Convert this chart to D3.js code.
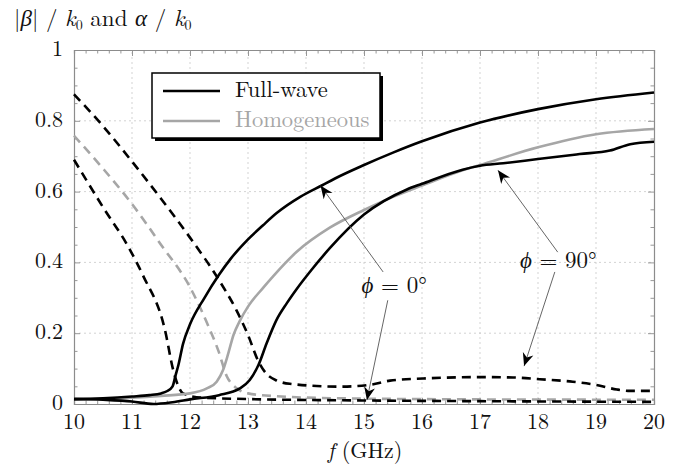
<!DOCTYPE html>
<html lang="en">
<head>
<meta charset="UTF-8" />
<script src="https://cdnjs.cloudflare.com/ajax/libs/d3/7.8.5/d3.min.js"></script>
<title>Propagation constants</title>
<style>
body { margin: 0; background: #fff; }
svg { display: block; }
</style>
</head>
<body>
<svg id="chart" width="690" height="467"></svg>
<script>

// curves: [f (GHz), value]
const fwBeta0 = [
  [10, 0.013], [10.5, 0.016], [11, 0.021], [11.3, 0.025], [11.5, 0.03], [11.6, 0.036],
  [11.7, 0.05], [11.75, 0.08], [11.8, 0.11], [11.88, 0.17], [12.0, 0.225], [12.25, 0.3],
  [12.5, 0.365], [12.7, 0.41], [13.0, 0.465], [13.26, 0.505], [13.5, 0.54], [13.9, 0.585],
  [14.28, 0.618], [14.5, 0.637], [15.0, 0.675], [15.5, 0.71], [16, 0.742], [17, 0.795],
  [18, 0.833], [19, 0.861], [20, 0.88]
];
const fwBeta90 = [
  [10, 0.015], [10.5, 0.012], [11, 0.007], [11.37, 0.0], [11.7, 0.005], [12, 0.013],
  [12.5, 0.025], [12.86, 0.044], [13.03, 0.068], [13.18, 0.11], [13.32, 0.171], [13.49, 0.237],
  [13.67, 0.285], [13.84, 0.325], [14.1, 0.38], [14.41, 0.44], [15.0, 0.535], [15.74, 0.606],
  [16, 0.622], [16.7, 0.662], [17.0, 0.673], [17.4, 0.68], [18, 0.692], [18.72, 0.706],
  [19.24, 0.716], [19.59, 0.734], [20, 0.741]
];
const hoBeta = [
  [10, 0.014], [11, 0.018], [11.5, 0.023], [12.0, 0.03], [12.29, 0.044], [12.46, 0.063],
  [12.57, 0.096], [12.66, 0.143], [12.75, 0.195], [12.85, 0.232], [13.0, 0.275], [13.26, 0.328],
  [13.44, 0.362], [13.84, 0.43], [14.41, 0.498], [15.0, 0.548], [15.5, 0.585], [16, 0.617],
  [16.7, 0.66], [17, 0.675], [18, 0.725], [19, 0.762], [20, 0.777]
];
const fwAlpha90 = [
  [10, 0.875], [10.5, 0.785], [11, 0.685], [11.5, 0.58], [12, 0.47], [12.5, 0.35],
  [12.8, 0.265], [13.0, 0.195], [13.18, 0.12], [13.32, 0.085], [13.5, 0.066], [13.72, 0.057],
  [14.59, 0.049], [15.1, 0.054], [15.45, 0.066], [16.02, 0.072], [17.0, 0.076], [17.57, 0.075],
  [18.03, 0.07], [18.6, 0.063], [19.0, 0.054], [19.36, 0.041], [19.59, 0.037], [20, 0.037]
];
const hoAlpha = [
  [10, 0.758], [10.5, 0.665], [11, 0.565], [11.5, 0.45], [12, 0.33], [12.29, 0.23],
  [12.49, 0.15], [12.63, 0.08], [12.8, 0.045], [13, 0.03], [13.5, 0.022], [14.59, 0.016],
  [17, 0.013], [20, 0.012]
];
const fwAlpha0 = [
  [10, 0.69], [10.5, 0.556], [10.94, 0.443], [11.19, 0.363], [11.57, 0.208], [11.71, 0.096],
  [11.8, 0.05], [11.88, 0.03], [12.2, 0.018], [13, 0.014], [15, 0.01], [17, 0.008], [20, 0.006]
];

const xTicks = [10, 11, 12, 13, 14, 15, 16, 17, 18, 19, 20];
const yTicks = [0, 0.2, 0.4, 0.6, 0.8, 1];
const yTickLabels = ['0', '0.2', '0.4', '0.6', '0.8', '1'];

// annotations: label position and arrows [from, tip], data units
const notes = [
  { text: '0°', at: [15.52, 0.313], arrows: [[[15.33, 0.373], [14.25, 0.617]], [[15.41, 0.293], [15.05, 0.011]]] },
  { text: '90°', at: [18.35, 0.383], arrows: [[[18.34, 0.429], [17.31, 0.66]], [[18.29, 0.373], [17.76, 0.107]]] }
];

const roman = 'Latin Modern Roman';
const greek = 'Liberation Serif';
const svg = d3.select('#chart');
const x = d3.scaleLinear().domain([10, 20]).range([74, 654]);
const y = d3.scaleLinear().domain([0, 1]).range([404, 50]);

// grid
const grid = svg.append('g').attr('stroke', '#c8c8c8').attr('stroke-width', 0.8).attr('stroke-dasharray', '2,3');
grid.selectAll('.gx').data(xTicks.slice(1, -1)).join('line')
  .attr('x1', d => x(d)).attr('x2', d => x(d)).attr('y1', y(0)).attr('y2', y(1));
grid.selectAll('.gy').data(yTicks.slice(1, -1)).join('line')
  .attr('x1', x(10)).attr('x2', x(20)).attr('y1', d => y(d)).attr('y2', d => y(d));

// axis frame with inward ticks
const tickColor = '#8c8c8c';
const xMinor = d3.range(10, 20.001, 0.2);
const yMinor = d3.range(0, 1.001, 0.05);
const frame = svg.append('g');
const axB = frame.append('g').attr('transform', `translate(0,${y(0)})`)
  .call(d3.axisBottom(x).tickValues(xMinor).tickSize(-3.5).tickFormat(''));
const axT = frame.append('g').attr('transform', `translate(0,${y(1)})`)
  .call(d3.axisTop(x).tickValues(xMinor).tickSize(-3.5).tickFormat(''));
const axL = frame.append('g').attr('transform', `translate(${x(10)},0)`)
  .call(d3.axisLeft(y).tickValues(yMinor).tickSize(-4).tickFormat(''));
const axR = frame.append('g').attr('transform', `translate(${x(20)},0)`)
  .call(d3.axisRight(y).tickValues(yMinor).tickSize(-4).tickFormat(''));
[axB, axT].forEach(a => a.selectAll('.tick line').attr('y2', d => {
  const major = Math.abs(d - Math.round(d)) < 1e-6;
  return (a === axB ? -1 : 1) * (major ? 6 : 3.5);
}));
[axL, axR].forEach(a => a.selectAll('.tick line').attr('x2', d => {
  const major = Math.abs(d * 5 - Math.round(d * 5)) < 1e-6;
  return (a === axL ? 1 : -1) * (major ? 6 : 3.5);
}));
frame.selectAll('path.domain').attr('stroke', tickColor).attr('stroke-width', 1.2);
frame.selectAll('.tick line').attr('stroke', tickColor).attr('stroke-width', 0.9);

// tick labels
svg.append('g').selectAll('text').data(xTicks).join('text')
  .attr('font-family', roman)
  .attr('x', d => x(d)).attr('y', 429).attr('text-anchor', 'middle')
  .attr('font-size', 22).attr('fill', '#111').text(d => d);
svg.append('g').selectAll('text').data(yTicks).join('text')
  .attr('font-family', roman)
  .attr('x', 63).attr('y', d => y(d) + 6).attr('text-anchor', 'end')
  .attr('font-size', 22).attr('fill', '#111').text((d, i) => yTickLabels[i]);

// axis titles
const xl = svg.append('text').attr('font-family', roman).attr('x', 365).attr('y', 458)
  .attr('text-anchor', 'middle').attr('font-size', 22).attr('fill', '#111');
xl.append('tspan').attr('font-style', 'italic').text('f');
xl.append('tspan').text(' (GHz)');

const yl = svg.append('text').attr('font-family', roman).attr('x', 14).attr('y', 26)
  .attr('font-size', 23).attr('fill', '#111');
yl.append('tspan').text('|');
yl.append('tspan').attr('font-family', greek).attr('font-style', 'italic').text('β');
yl.append('tspan').text('| / ');
yl.append('tspan').attr('font-style', 'italic').text('k');
yl.append('tspan').attr('font-size', 14).attr('dy', 4).text('0');
yl.append('tspan').attr('dy', -4).text(' and ');
yl.append('tspan').attr('font-family', greek).attr('font-style', 'italic').text('α');
yl.append('tspan').text(' / ');
yl.append('tspan').attr('font-style', 'italic').text('k');
yl.append('tspan').attr('font-size', 14).attr('dy', 4).text('0');

// curves
const line = d3.line().x(d => x(d[0])).y(d => y(d[1])).curve(d3.curveMonotoneX);
const series = [
  { data: hoAlpha, color: '#a6a6a6', dash: '9,6' },
  { data: fwAlpha0, color: '#000', dash: '9,6' },
  { data: fwAlpha90, color: '#000', dash: '9,6' },
  { data: hoBeta, color: '#a6a6a6', dash: null },
  { data: fwBeta90, color: '#000', dash: null },
  { data: fwBeta0, color: '#000', dash: null }
];
svg.append('g').selectAll('path').data(series).join('path')
  .attr('d', d => line(d.data))
  .attr('fill', 'none')
  .attr('stroke', d => d.color)
  .attr('stroke-width', 2.6)
  .attr('stroke-dasharray', d => d.dash);

// arrowhead marker (stealth-like)
svg.append('defs').append('marker')
  .attr('id', 'stealth').attr('viewBox', '-14 -6 16 12')
  .attr('markerWidth', 16).attr('markerHeight', 12)
  .attr('markerUnits', 'userSpaceOnUse')
  .attr('refX', 0).attr('refY', 0).attr('orient', 'auto')
  .append('path').attr('d', 'M0,0 L-13,-5.5 L-9,0 L-13,5.5 Z').attr('fill', '#000');

const ann = svg.append('g');
notes.forEach(n => {
  n.arrows.forEach(a => {
    ann.append('line')
      .attr('x1', x(a[0][0])).attr('y1', y(a[0][1]))
      .attr('x2', x(a[1][0])).attr('y2', y(a[1][1]))
      .attr('stroke', '#555').attr('stroke-width', 0.9)
      .attr('marker-end', 'url(#stealth)');
  });
  const t = ann.append('text').attr('font-family', roman)
    .attr('x', x(n.at[0])).attr('y', y(n.at[1]))
    .attr('text-anchor', 'middle').attr('font-size', 23).attr('fill', '#111');
  t.append('tspan').attr('font-family', greek).attr('font-style', 'italic').text('ϕ');
  t.append('tspan').text(' = ' + n.text);
});

// legend
const lg = svg.append('g').attr('transform', 'translate(152,73)');
lg.append('rect').attr('x', 3).attr('y', 3).attr('width', 228).attr('height', 65).attr('fill', '#000');
lg.append('rect').attr('width', 228).attr('height', 65).attr('fill', '#fff')
  .attr('stroke', '#000').attr('stroke-width', 1.5);
const legendItems = [
  { label: 'Full-wave', color: '#000', text: '#111' },
  { label: 'Homogeneous', color: '#a6a6a6', text: '#a6a6a6' }
];
legendItems.forEach((d, i) => {
  lg.append('line').attr('x1', 11).attr('x2', 68).attr('y1', 18 + i * 30).attr('y2', 18 + i * 30)
    .attr('stroke', d.color).attr('stroke-width', 2.6);
  lg.append('text').attr('font-family', roman).attr('x', 83).attr('y', 24 + i * 30)
    .attr('font-size', 22.5).attr('fill', d.text).text(d.label);
});

</script>
</body>
</html>
